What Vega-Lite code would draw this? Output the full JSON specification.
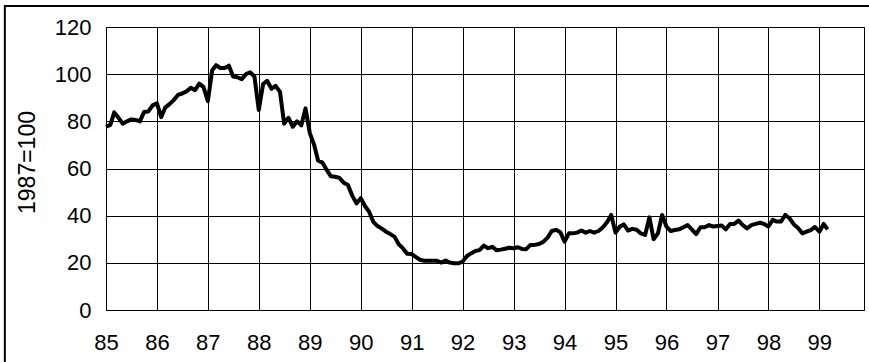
{
  "$schema": "https://vega.github.io/schema/vega-lite/v6.json",
  "autosize": {"type": "none"},
  "padding": {"left": 106, "top": 27, "right": 5, "bottom": 52},
  "width": 758,
  "height": 283,
  "background": "white",
  "layer": [
    {
      "data": {"values": [
        {"d":"1985-01","v":77.7},{"d":"1985-02","v":78.5},{"d":"1985-03","v":83.8},{"d":"1985-04","v":81.5},{"d":"1985-05","v":79},{"d":"1985-06","v":80},{"d":"1985-07","v":80.8},{"d":"1985-08","v":80.6},{"d":"1985-09","v":80},{"d":"1985-10","v":84},{"d":"1985-11","v":84.2},{"d":"1985-12","v":86.8},
        {"d":"1986-01","v":87.6},{"d":"1986-02","v":81.8},{"d":"1986-03","v":85.8},{"d":"1986-04","v":87.3},{"d":"1986-05","v":89},{"d":"1986-06","v":91.2},{"d":"1986-07","v":91.8},{"d":"1986-08","v":92.7},{"d":"1986-09","v":94.2},{"d":"1986-10","v":93.2},{"d":"1986-11","v":96},{"d":"1986-12","v":94.5},
        {"d":"1987-01","v":88.5},{"d":"1987-02","v":101.7},{"d":"1987-03","v":103.8},{"d":"1987-04","v":102.6},{"d":"1987-05","v":102.6},{"d":"1987-06","v":103.6},{"d":"1987-07","v":99},{"d":"1987-08","v":98.7},{"d":"1987-09","v":97.9},{"d":"1987-10","v":100},{"d":"1987-11","v":100.8},{"d":"1987-12","v":99},
        {"d":"1988-01","v":84.8},{"d":"1988-02","v":95.8},{"d":"1988-03","v":97.2},{"d":"1988-04","v":93.8},{"d":"1988-05","v":95},{"d":"1988-06","v":92.5},{"d":"1988-07","v":79},{"d":"1988-08","v":81.5},{"d":"1988-09","v":77.7},{"d":"1988-10","v":80},{"d":"1988-11","v":78.3},{"d":"1988-12","v":85.5},
        {"d":"1989-01","v":75},{"d":"1989-02","v":70},{"d":"1989-03","v":63.4},{"d":"1989-04","v":62.5},{"d":"1989-05","v":59.5},{"d":"1989-06","v":56.7},{"d":"1989-07","v":56.5},{"d":"1989-08","v":56},{"d":"1989-09","v":54},{"d":"1989-10","v":53},{"d":"1989-11","v":48.5},{"d":"1989-12","v":45.2},
        {"d":"1990-01","v":47.4},{"d":"1990-02","v":44},{"d":"1990-03","v":41.8},{"d":"1990-04","v":37.4},{"d":"1990-05","v":35.6},{"d":"1990-06","v":34.5},{"d":"1990-07","v":33.2},{"d":"1990-08","v":32.2},{"d":"1990-09","v":31},{"d":"1990-10","v":27.8},{"d":"1990-11","v":26},{"d":"1990-12","v":23.8},
        {"d":"1991-01","v":23.7},{"d":"1991-02","v":22.4},{"d":"1991-03","v":21.3},{"d":"1991-04","v":20.9},{"d":"1991-05","v":20.9},{"d":"1991-06","v":20.9},{"d":"1991-07","v":20.9},{"d":"1991-08","v":20.1},{"d":"1991-09","v":21},{"d":"1991-10","v":20.1},{"d":"1991-11","v":19.8},{"d":"1991-12","v":19.8},
        {"d":"1992-01","v":20.5},{"d":"1992-02","v":22.9},{"d":"1992-03","v":24},{"d":"1992-04","v":25},{"d":"1992-05","v":25.4},{"d":"1992-06","v":27.3},{"d":"1992-07","v":26.2},{"d":"1992-08","v":26.8},{"d":"1992-09","v":25.3},{"d":"1992-10","v":25.6},{"d":"1992-11","v":26},{"d":"1992-12","v":26.4},
        {"d":"1993-01","v":26.2},{"d":"1993-02","v":26.6},{"d":"1993-03","v":25.9},{"d":"1993-04","v":25.8},{"d":"1993-05","v":27.6},{"d":"1993-06","v":27.6},{"d":"1993-07","v":28},{"d":"1993-08","v":28.9},{"d":"1993-09","v":30.7},{"d":"1993-10","v":33.5},{"d":"1993-11","v":34},{"d":"1993-12","v":33},
        {"d":"1994-01","v":29},{"d":"1994-02","v":32.5},{"d":"1994-03","v":32.5},{"d":"1994-04","v":32.8},{"d":"1994-05","v":33.7},{"d":"1994-06","v":32.8},{"d":"1994-07","v":33.5},{"d":"1994-08","v":32.8},{"d":"1994-09","v":33.5},{"d":"1994-10","v":35},{"d":"1994-11","v":37.2},{"d":"1994-12","v":40.3},
        {"d":"1995-01","v":32.8},{"d":"1995-02","v":35.4},{"d":"1995-03","v":36.3},{"d":"1995-04","v":33.7},{"d":"1995-05","v":34.4},{"d":"1995-06","v":34},{"d":"1995-07","v":32.5},{"d":"1995-08","v":31.8},{"d":"1995-09","v":39.3},{"d":"1995-10","v":30},{"d":"1995-11","v":32.5},{"d":"1995-12","v":40.3},
        {"d":"1996-01","v":35.4},{"d":"1996-02","v":33.5},{"d":"1996-03","v":33.9},{"d":"1996-04","v":34.2},{"d":"1996-05","v":35.1},{"d":"1996-06","v":36},{"d":"1996-07","v":34.2},{"d":"1996-08","v":32.2},{"d":"1996-09","v":35.1},{"d":"1996-10","v":35.1},{"d":"1996-11","v":36},{"d":"1996-12","v":35.4},
        {"d":"1997-01","v":35.6},{"d":"1997-02","v":35.8},{"d":"1997-03","v":34.2},{"d":"1997-04","v":36.5},{"d":"1997-05","v":36.5},{"d":"1997-06","v":37.9},{"d":"1997-07","v":36},{"d":"1997-08","v":34.6},{"d":"1997-09","v":36},{"d":"1997-10","v":36.5},{"d":"1997-11","v":37},{"d":"1997-12","v":36.5},
        {"d":"1998-01","v":35.4},{"d":"1998-02","v":38.2},{"d":"1998-03","v":37.5},{"d":"1998-04","v":37.5},{"d":"1998-05","v":40.3},{"d":"1998-06","v":38.9},{"d":"1998-07","v":36.4},{"d":"1998-08","v":34.8},{"d":"1998-09","v":32.5},{"d":"1998-10","v":33.2},{"d":"1998-11","v":33.9},{"d":"1998-12","v":35.2},
        {"d":"1999-01","v":33.2},{"d":"1999-02","v":36.5},{"d":"1999-03","v":34.2}
      ]},
      "mark": {"type": "line", "color": "black", "strokeWidth": 4, "strokeJoin": "round"},
      "encoding": {
        "x": {
          "field": "d", "type": "temporal",
          "scale": {"type": "utc", "domain": [{"year": 1985, "month": 1, "date": 1, "utc": true}, {"year": 1999, "month": 11, "date": 17, "utc": true}]},
          "axis": {"title": null, "format": "%y", "tickCount": {"interval": "year", "step": 1}, "labelPadding": 22}
        },
        "y": {
          "field": "v", "type": "quantitative",
          "scale": {"domain": [0, 120], "nice": false, "zero": true},
          "axis": {"title": "1987=100", "values": [0, 20, 40, 60, 80, 100, 120], "labelPadding": 15, "titlePadding": 15, "titleFontSize": 23, "titleY": 135}
        }
      }
    },
    {
      "data": {"values": [{}]},
      "mark": {"type": "rect", "filled": false, "stroke": "black", "strokeWidth": 2},
      "encoding": {
        "x": {"datum": {"year": 1983, "month": 1, "date": 7, "utc": true}, "type": "temporal"},
        "x2": {"datum": {"year": 2001, "month": 1, "date": 1, "utc": true}},
        "y": {"datum": 128.9, "type": "quantitative"},
        "y2": {"datum": -40}
      }
    }
  ],
  "config": {
    "view": {"stroke": "black", "strokeWidth": 1},
    "axis": {
      "grid": true, "gridColor": "black", "gridWidth": 1, "gridOpacity": 1,
      "domain": false, "ticks": false, "tickSize": 0,
      "labelFont": "Liberation Sans", "labelFontSize": 22, "labelColor": "black",
      "titleFont": "Liberation Sans", "titleFontSize": 22, "titleFontWeight": "normal", "titleColor": "black",
      "labelFlush": false, "labelOverlap": false
    }
  }
}
